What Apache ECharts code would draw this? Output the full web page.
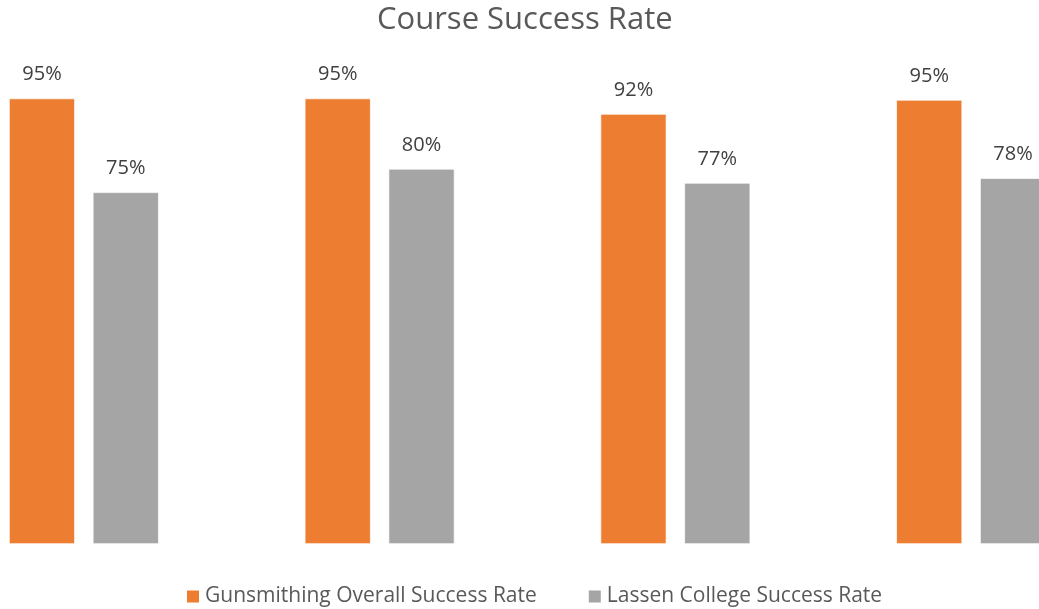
<!DOCTYPE html>
<html>
<head>
<meta charset="utf-8">
<script src="https://cdn.jsdelivr.net/npm/echarts@6/dist/echarts.min.js"></script>
<style>
  html, body { margin: 0; padding: 0; background: #fff; }
  #main { width: 1039px; height: 609px; }
</style>
</head>
<body>
<div id="main"></div>
<script>
// data
var categories = ['Course 1', 'Course 2', 'Course 3', 'Course 4'];
var gunsmithing = [95, 95, 91.7, 94.7];
var lassen = [75, 80, 77, 78.0];
var seriesNames = ['Gunsmithing Overall Success Rate', 'Lassen College Success Rate'];

var chart = echarts.init(document.getElementById('main'));

var labelStyle = {
    show: true,
    position: 'top',
    distance: 14,
    fontFamily: 'Open Sans',
    fontSize: 20,
    color: '#404040',
    formatter: function (p) { return Math.round(p.value) + '%'; }
};

var option = {
    animation: false,
    textStyle: { fontFamily: 'Open Sans' },
    title: {
        text: 'Course Success Rate',
        left: 372,
        top: 0,
        textStyle: {
            fontFamily: 'Open Sans',
            fontSize: 31,
            fontWeight: 'normal',
            color: '#595959'
        }
    },
    legend: {
        data: seriesNames,
        bottom: -3,
        left: 180,
        icon: 'rect',
        itemWidth: 14,
        itemHeight: 14,
        itemGap: 50,
        textStyle: {
            fontFamily: 'Open Sans',
            fontSize: 21,
            color: '#595959'
        }
    },
    grid: {
        left: -64,
        right: -80,
        top: 75,
        bottom: 65,
        outerBoundsMode: 'none',
        containLabel: false
    },
    xAxis: {
        type: 'category',
        data: categories,
        axisLine: { show: false },
        axisTick: { show: false },
        axisLabel: { show: false }
    },
    yAxis: {
        type: 'value',
        min: 0,
        max: 100,
        show: false,
        splitLine: { show: false }
    },
    series: [
        {
            name: seriesNames[0],
            type: 'bar',
            data: gunsmithing,
            barWidth: 66,
            barGap: '27%',
            itemStyle: { color: '#ED7D31', borderColor: '#fff', borderWidth: 0.7 },
            label: labelStyle
        },
        {
            name: seriesNames[1],
            type: 'bar',
            data: lassen,
            barWidth: 66,
            itemStyle: { color: '#A5A5A5', borderColor: '#fff', borderWidth: 0.7 },
            label: labelStyle
        }
    ]
};

chart.setOption(option);
</script>
</body>
</html>
